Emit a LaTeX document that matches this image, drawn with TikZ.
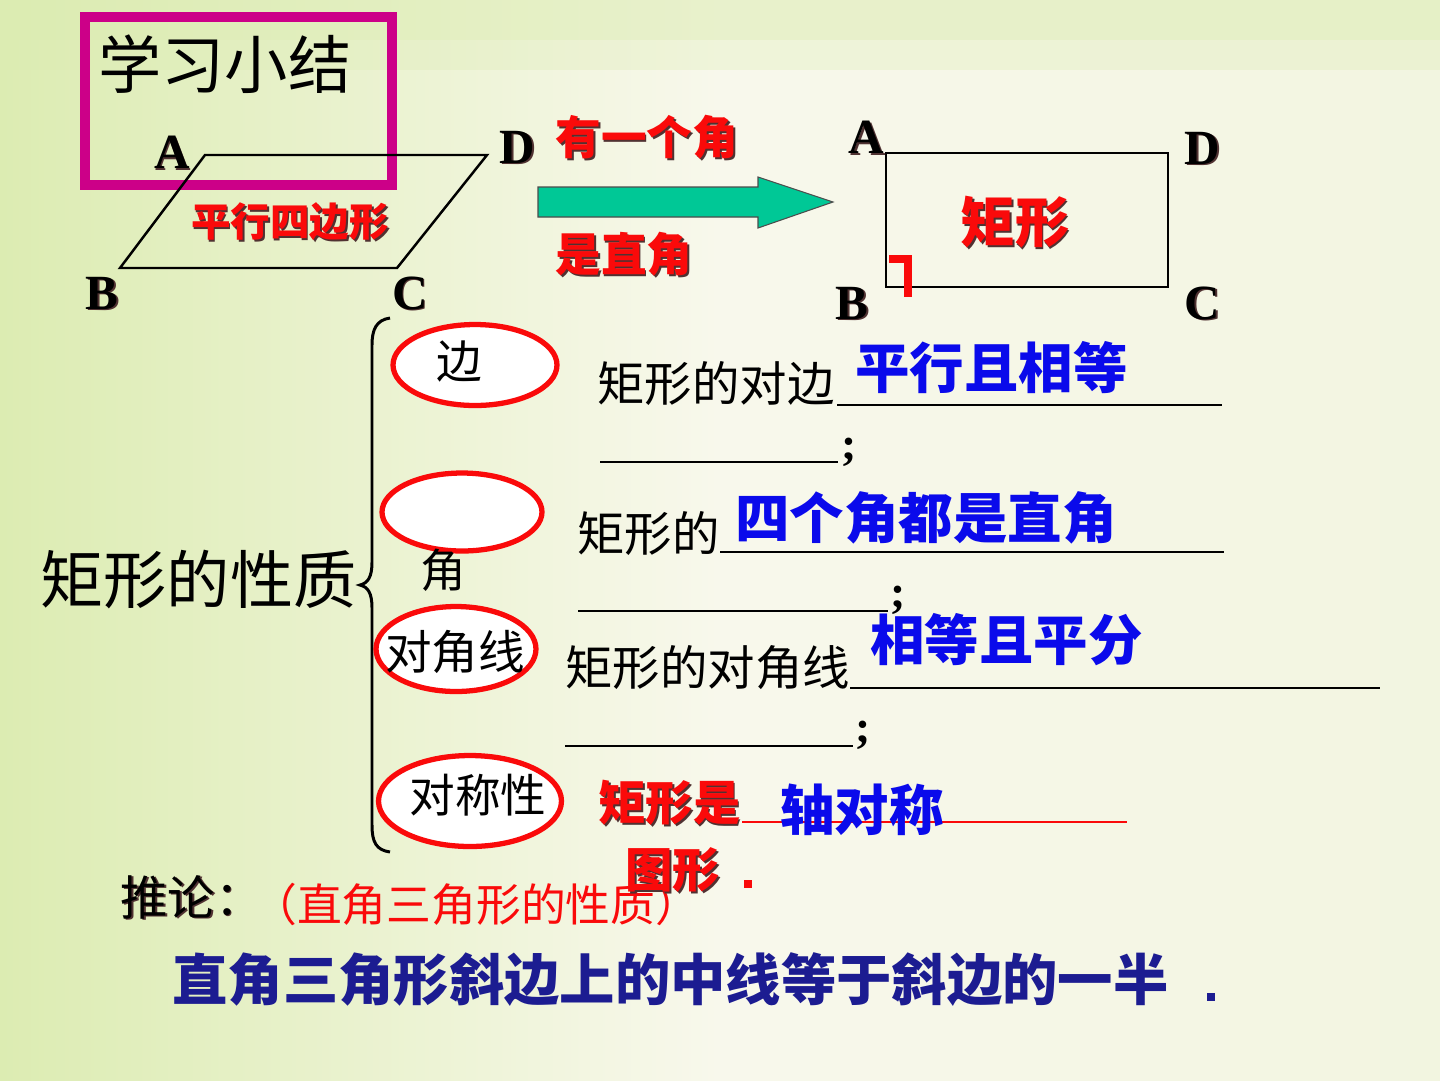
\documentclass[tikz,border=0pt]{standalone}
\usepackage{fontspec}
\setmainfont{Liberation Serif}
\newfontfamily\cjk{Noto Sans CJK SC}
\usetikzlibrary{shapes.geometric}
\definecolor{bgG}{RGB}{220,236,178}
\definecolor{bgC}{RGB}{248,248,236}
\definecolor{bgR}{RGB}{242,245,224}
\definecolor{mag}{RGB}{204,0,136}
\definecolor{tred}{RGB}{250,10,10}
\definecolor{tblue}{RGB}{10,10,235}
\definecolor{navy}{RGB}{28,28,145}
\definecolor{teal}{RGB}{0,200,150}
\definecolor{shc}{RGB}{80,50,50}
\newcommand\fs[1]{\fontsize{#1}{#1}\selectfont}
\newcommand\shnode[5]{%
  \node[anchor=#3,inner sep=0,#4,text=shc,xshift=1.0pt,yshift=-1.0pt] (#1s) at (#2) {#5};
  \node[anchor=#3,inner sep=0,#4] (#1) at (#2) {#5};}
\begin{document}
\begin{tikzpicture}[x=0.02cm,y=-0.02cm,
  txt/.style={inner sep=0},
  ring/.style={ellipse,draw=tred,line width=3pt,fill=white,inner sep=0},
  blank/.style={line width=0.9pt,draw=black},
  letter/.style={font=\bfseries\fs{28pt}}]
\useasboundingbox (0,0) rectangle (1440,1080);
% background
\shade[left color=bgG,right color=bgR,middle color=bgC] (0,0) rectangle (1440,1080);
\fill[bgG,opacity=0.55] (0,0) rectangle (1440,40);
\fill[bgG,opacity=0.3] (0,40) rectangle (1440,70);

% title box
\node[draw=mag,line width=5.7pt,minimum width=6.14cm,minimum height=3.36cm,inner sep=0] (titlebox) at (238.5,101) {};
\node[txt,anchor=west,font=\cjk\fs{36pt}] (title) at (98,64) {学习小结};

% parallelogram
\coordinate (pA) at (205,155);
\coordinate (pD) at (487,155);
\coordinate (pC) at (397,268);
\coordinate (pB) at (120,268);
\draw[line width=1.4pt] (pA) -- (pD) -- (pC) -- (pB) -- cycle;
\shnode{lA}{172,152}{center}{letter}{A}
\shnode{lD}{517,147}{center}{letter}{D}
\shnode{lB}{102,293}{center}{letter}{B}
\shnode{lC}{410,293}{center}{letter}{C}
\shnode{pgram}{290,222}{center}{text=tred,font=\cjk\bfseries\fs{22.5pt}}{平行四边形}

% arrow
\coordinate (ar1) at (538,187);
\coordinate (ar2) at (758,187);
\coordinate (ar3) at (758,177);
\coordinate (ar4) at (833,202);
\coordinate (ar5) at (758,228);
\coordinate (ar6) at (758,217);
\coordinate (ar7) at (538,217);
\filldraw[fill=teal,draw=black!70,line width=0.6pt] (ar1) -- (ar2) -- (ar3) -- (ar4) -- (ar5) -- (ar6) -- (ar7) -- cycle;
\shnode{cond1}{555,137}{west}{text=tred,font=\cjk\bfseries\fs{26pt}}{有一个角}
\shnode{cond2}{555,254}{west}{text=tred,font=\cjk\bfseries\fs{26pt}}{是直角}

% rectangle
\coordinate (rA) at (886,153);
\coordinate (rD) at (1168,153);
\coordinate (rC) at (1168,287);
\coordinate (rB) at (886,287);
\draw[line width=1.4pt] (rA) -- (rD) -- (rC) -- (rB) -- cycle;
\shnode{qA}{866,137}{center}{letter}{A}
\shnode{qD}{1202,148}{center}{letter}{D}
\shnode{qB}{852,303}{center}{letter}{B}
\shnode{qC}{1202,303}{center}{letter}{C}
\shnode{rect}{1015,222}{center}{text=tred,font=\cjk\bfseries\fs{31pt}}{矩形}
\coordinate (m1) at (889,259);
\coordinate (m2) at (908,259);
\coordinate (m3) at (908,297);
\draw[shc,line width=4pt,xshift=1.0pt,yshift=-1.0pt] (m1) -- (m2) -- (m3);
\draw[tred,line width=4pt] (m1) -- (m2) -- (m3);

% main label and brace
\node[txt,anchor=west,font=\cjk\fs{36pt}] (props) at (40,580) {矩形的性质};
\coordinate (brT) at (390,318);
\coordinate (brM) at (360,585);
\coordinate (brB) at (390,852);
\draw[line width=1.7pt] (brT) .. controls (376,320) and (372,330) .. (372,345) -- (372,562)
  .. controls (372,577) and (368,583) .. (brM)
  .. controls (368,587) and (372,593) .. (372,608) -- (372,825)
  .. controls (372,842) and (376,850) .. (brB);

% ellipses
\node[ring,minimum width=3.28cm,minimum height=1.62cm] (e1) at (475,365) {};
\node[ring,minimum width=3.2cm,minimum height=1.56cm] (e2) at (462,512) {};
\node[ring,minimum width=3.2cm,minimum height=1.7cm] (e3) at (456,649) {};
\node[ring,minimum width=3.66cm,minimum height=1.82cm] (e4) at (470,801) {};
\node[txt,font=\cjk\fs{26pt}] (k1) at (459,362) {边};
\node[txt,font=\cjk\fs{26pt}] (k2) at (443,570) {角};
\node[txt,font=\cjk\fs{26.5pt}] (k3) at (455,652) {对角线};
\node[txt,font=\cjk\fs{26pt}] (k4) at (478,795) {对称性};

% row 1
\node[txt,anchor=west,font=\cjk\fs{27pt}] (s1) at (597,384) {矩形的对边};
\coordinate (u1a) at (837,405); \coordinate (u1b) at (1222,405);
\coordinate (u1c) at (600,462); \coordinate (u1d) at (838,462);
\draw[blank] (u1a) -- (u1b);
\draw[blank] (u1c) -- (u1d);
\node[txt,font=\bfseries\fs{26pt}] (sc1) at (849,452) {;};
\node[txt,anchor=west,text=tblue,font=\cjk\bfseries\fs{31pt}] (a1) at (855,368) {平行且相等};

% row 2
\node[txt,anchor=west,font=\cjk\fs{27pt}] (s2) at (577,534) {矩形的};
\coordinate (u2a) at (720,552); \coordinate (u2b) at (1224,552);
\coordinate (u2c) at (578,611); \coordinate (u2d) at (888,611);
\draw[blank] (u2a) -- (u2b);
\draw[blank] (u2c) -- (u2d);
\node[txt,font=\bfseries\fs{26pt}] (sc2) at (898,600) {;};
\node[txt,anchor=west,text=tblue,font=\cjk\bfseries\fs{31pt}] (a2) at (735,518) {四个角都是直角};

% row 3
\node[txt,anchor=west,font=\cjk\fs{27pt}] (s3) at (565,668) {矩形的对角线};
\coordinate (u3a) at (850,688); \coordinate (u3b) at (1380,688);
\coordinate (u3c) at (565,746); \coordinate (u3d) at (853,746);
\draw[blank] (u3a) -- (u3b);
\draw[blank] (u3c) -- (u3d);
\node[txt,font=\bfseries\fs{26pt}] (sc3) at (863,735) {;};
\node[txt,anchor=west,text=tblue,font=\cjk\bfseries\fs{31pt}] (a3) at (870,640) {相等且平分};

% row 4
\coordinate (u4a) at (742,822); \coordinate (u4b) at (1127,822);
\draw[tred,line width=0.9pt] (u4a) -- (u4b);
\shnode{s4}{598,803}{west}{text=tred,font=\cjk\bfseries\fs{27pt}}{矩形是}
\node[txt,anchor=west,text=tblue,font=\cjk\bfseries\fs{31pt}] (a4) at (780,810) {轴对称};

% corollary
\shnode{cor}{120,897}{west}{text=black,font=\cjk\fs{27pt}}{推论：}
\node[txt,anchor=west,text=tred,font=\cjk\fs{25.5pt}] (cor2) at (252,904) {（直角三角形的性质）};
\shnode{s4b}{625,870}{west}{text=tred,font=\cjk\bfseries\fs{27pt}}{图形}
\node[fill=tred,minimum size=4.5pt,inner sep=0] (dot1) at (748,884) {};
\node[txt,anchor=west,text=navy,font=\cjk\bfseries\fs{31.5pt}] (thm) at (172,980) {直角三角形斜边上的中线等于斜边的一半};
\node[fill=navy,minimum size=4.5pt,inner sep=0] (dot2) at (1211,997) {};
\end{tikzpicture}
\end{document}
